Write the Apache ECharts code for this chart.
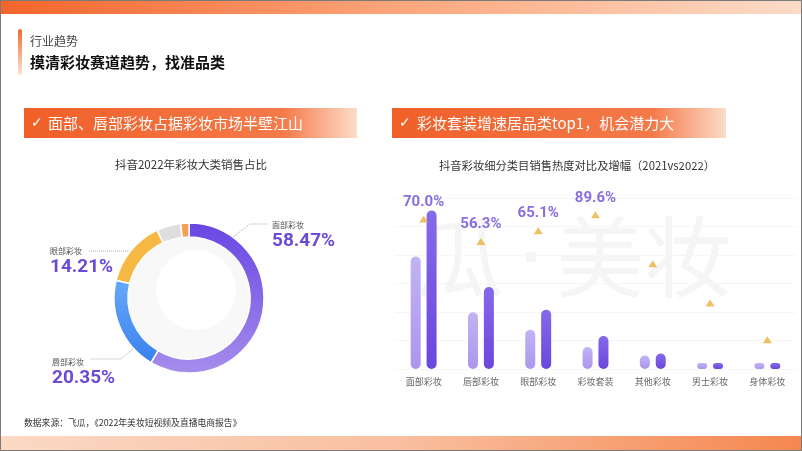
<!DOCTYPE html>
<html>
<head>
<meta charset="utf-8">
<script src="https://cdn.jsdelivr.net/npm/echarts@6/dist/echarts.min.js"></script>
<style>
html,body{margin:0;padding:0;background:#fff;}
#main{width:802px;height:451px;}
</style>
</head>
<body>
<div id="main"></div>
<script>
// ---------- data ----------
var shareNames = ['面部彩妆', '唇部彩妆', '眼部彩妆', '其他彩妆', '男士及身体彩妆'];
var shareValues = [58.47, 20.35, 14.21, 5.2, 1.77];

var categories = ['面部彩妆', '唇部彩妆', '眼部彩妆', '彩妆套装', '其他彩妆', '男士彩妆', '身体彩妆'];
var heat2021 = [39.5, 19.9, 13.8, 7.7, 4.7, 2.1, 2.1];
var heat2022 = [55.6, 28.8, 20.8, 11.6, 5.4, 2.1, 2.1];
var growthMarker = [87.7, 74.6, 80.9, 90.2, 61.6, 38.6, 17.1];
var growthLabels = ['70.0%', '56.3%', '65.1%', '89.6%', '', '', ''];

// ---------- styles ----------
var CJK = '"Noto Sans CJK SC", "DejaVu Sans", sans-serif';
var NUM = 'Roboto, "Noto Sans", sans-serif';
var WM = '#f5f5f5';
var sliceColors = [
  new echarts.graphic.LinearGradient(0, 0, 0, 1, [{offset: 0, color: '#6846e2'}, {offset: 1, color: '#a68dec'}]),
  new echarts.graphic.LinearGradient(0, 0, 0, 1, [{offset: 0, color: '#66a9f8'}, {offset: 1, color: '#3a80ef'}]),
  '#f5b843', '#dedede', '#f2a156'
];
var pieLabelLayout = {
  0: {x: 272, y: 219, pts: [[233, 237], [250, 224], [268, 224]]},
  1: {x: 52, y: 355.5, pts: [[133, 349], [121, 359], [90, 359]]},
  2: {x: 50, y: 245, pts: [[130, 251], [110, 251], [88, 251]]}
};

function hGrad(stops) {
  return new echarts.graphic.LinearGradient(0, 0, 1, 0, stops);
}

var chart = echarts.init(document.getElementById('main'), null, {renderer: 'canvas'});

var option = {
  backgroundColor: '#ffffff',
  animation: false,
  graphic: [
    // watermark
    {type: 'text', z: -10, x: 416, y: 257, style: {text: '瓜', font: '88px ' + CJK, fill: WM, verticalAlign: 'middle'}},
    {type: 'rect', z: -10, shape: {x: 526, y: 252, width: 10, height: 10}, style: {fill: WM}},
    {type: 'text', z: -10, x: 556, y: 257, style: {text: '美妆', font: '88px ' + CJK, fill: WM, verticalAlign: 'middle'}},
    {type: 'circle', z: -10, shape: {cx: 189, cy: 298, r: 61}, style: {fill: '#f8f8f8'}},
    {type: 'circle', z: -9, shape: {cx: 196, cy: 290, r: 40}, style: {fill: '#ffffff'}},
    // top and bottom bands
    {type: 'rect', shape: {x: 0, y: 0, width: 802, height: 14},
      style: {fill: hGrad([{offset: 0, color: '#f2652b'}, {offset: 0.5, color: '#fca67c'}, {offset: 1, color: '#fbdcc8'}])}},
    {type: 'rect', shape: {x: 0, y: 436, width: 802, height: 15},
      style: {fill: hGrad([{offset: 0, color: '#fbd9c5'}, {offset: 0.5, color: '#f9bfa0'}, {offset: 1, color: '#f5874f'}])}},
    {type: 'rect', shape: {x: 0.5, y: 0.5, width: 801, height: 450}, style: {fill: 'none', stroke: '#7a7a7a', lineWidth: 1}},
    // header
    {type: 'rect', shape: {x: 18, y: 29, width: 4, height: 46, r: 2},
      style: {fill: new echarts.graphic.LinearGradient(0, 0, 0, 1, [{offset: 0, color: '#f26a2e'}, {offset: 1, color: '#fde3d4'}])}},
    {type: 'text', x: 30, y: 41, style: {text: '行业趋势', font: '12px ' + CJK, fill: '#444', verticalAlign: 'middle'}},
    {type: 'text', x: 30, y: 62, style: {text: '摸清彩妆赛道趋势，找准品类', font: 'bold 15px ' + CJK, fill: '#111', verticalAlign: 'middle'}},
    // section bars
    {type: 'rect', shape: {x: 24, y: 108, width: 333, height: 30},
      style: {fill: hGrad([{offset: 0, color: '#f05f28'}, {offset: 0.78, color: '#f47a4a'}, {offset: 1, color: '#fcdcc9'}])}},
    {type: 'text', x: 31, y: 123, style: {text: '✓', font: '14px "DejaVu Sans"', fill: '#fff', verticalAlign: 'middle'}},
    {type: 'text', x: 48, y: 123, style: {text: '面部、唇部彩妆占据彩妆市场半壁江山', font: '15px ' + CJK, fill: '#fff', verticalAlign: 'middle'}},
    {type: 'rect', shape: {x: 392, y: 108, width: 334, height: 30},
      style: {fill: hGrad([{offset: 0, color: '#f05f28'}, {offset: 0.78, color: '#f47a4a'}, {offset: 1, color: '#fcdcc9'}])}},
    {type: 'text', x: 399, y: 123, style: {text: '✓', font: '14px "DejaVu Sans"', fill: '#fff', verticalAlign: 'middle'}},
    {type: 'text', x: 417, y: 123, style: {text: '彩妆套装增速居品类top1，机会潜力大', font: '15px ' + CJK, fill: '#fff', verticalAlign: 'middle'}},
    // chart titles
    {type: 'text', x: 191, y: 165, style: {text: '抖音2022年彩妆大类销售占比', font: '11.5px ' + CJK, fill: '#333', align: 'center', verticalAlign: 'middle'}},
    {type: 'text', x: 577, y: 166, style: {text: '抖音彩妆细分类目销售热度对比及增幅（2021vs2022）', font: '11.3px ' + CJK, fill: '#333', align: 'center', verticalAlign: 'middle'}},
    // footer
    {type: 'text', x: 24, y: 423, style: {text: '数据来源：飞瓜，《2022年美妆短视频及直播电商报告》', font: '8.8px ' + CJK, fill: '#333', verticalAlign: 'middle'}}
  ],
  grid: {left: 395, top: 198, width: 401, height: 171},
  xAxis: {
    type: 'category', data: categories,
    axisLine: {show: false}, axisTick: {show: false},
    axisLabel: {color: '#666', fontSize: 9, fontFamily: CJK, margin: 8}
  },
  yAxis: [
    {type: 'value', min: 0, max: 60, interval: 10, axisLabel: {show: false}, axisLine: {show: false}, axisTick: {show: false},
      splitLine: {lineStyle: {color: '#f6f6f6'}}},
    {type: 'value', min: 0, max: 100, show: false, splitLine: {show: false}}
  ],
  series: [
    {
      type: 'pie', center: [189, 298], radius: [61, 75], startAngle: 90, clockwise: true,
      avoidLabelOverlap: false,
      data: shareNames.map(function (n, i) {
        return {name: n, value: shareValues[i], itemStyle: {color: sliceColors[i]},
          label: {show: i < 3}, labelLine: {show: i < 3}};
      }),
      itemStyle: {borderColor: '#fff', borderWidth: 1.5},
      label: {
        position: 'outside',
        formatter: function (p) { return '{n|' + p.name + '}\n{v|' + p.value.toFixed(2) + '%}'; },
        rich: {
          n: {fontSize: 8, color: '#555', lineHeight: 12, fontFamily: CJK},
          v: {fontSize: 19, color: '#6a4bd8', fontWeight: 'bold', lineHeight: 21, fontFamily: NUM}
        }
      },
      labelLine: {lineStyle: {color: '#aaa', type: 'dotted', width: 1}},
      labelLayout: function (params) {
        var l = pieLabelLayout[params.dataIndex];
        if (!l) return {};
        return {x: l.x, y: l.y, align: 'left', verticalAlign: 'top', labelLinePoints: l.pts};
      }
    },
    {
      type: 'bar', name: '2021', data: heat2021, barWidth: 10, barGap: '59%',
      itemStyle: {borderRadius: 5,
        color: new echarts.graphic.LinearGradient(0, 0, 0, 1, [{offset: 0, color: '#c2b3f3'}, {offset: 1, color: '#ab96ed'}])}
    },
    {
      type: 'bar', name: '2022', data: heat2022, barWidth: 10,
      itemStyle: {borderRadius: 5,
        color: new echarts.graphic.LinearGradient(0, 0, 0, 1, [{offset: 0, color: '#8669ea'}, {offset: 1, color: '#6a47dd'}])}
    },
    {
      type: 'scatter', yAxisIndex: 1, data: growthMarker, symbol: 'triangle', symbolSize: [9, 7],
      itemStyle: {color: '#e9b23c'}, z: 5,
      label: {
        show: true, position: 'top', distance: 6,
        formatter: function (p) { return growthLabels[p.dataIndex]; },
        color: '#6a4bd8', fontSize: 15, fontWeight: 'bold', fontFamily: NUM
      }
    }
  ]
};
chart.setOption(option);
</script>
</body>
</html>
